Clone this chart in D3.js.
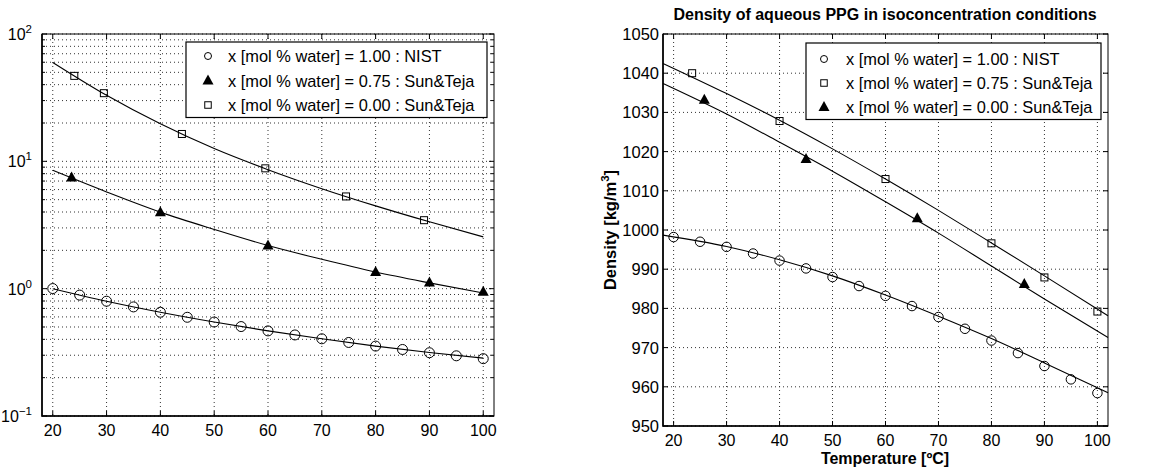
<!DOCTYPE html>
<html>
<head>
<meta charset="utf-8">
<script src="https://cdn.jsdelivr.net/npm/d3@7"></script>
<style>
  body { margin: 0; background: #fff; }
  text { font-family: "Liberation Sans", Arial, Helvetica, sans-serif; fill: #000; }
</style>
</head>
<body>
<div id="my_dataviz"></div>
<script>
// ---- data: viscosity panel (left, log scale) ----
const tempNist = [20, 25, 30, 35, 40, 45, 50, 55, 60, 65, 70, 75, 80, 85, 90, 95, 100];
const viscNist = [1.002, 0.890, 0.797, 0.719, 0.653, 0.596, 0.547, 0.504, 0.466, 0.433, 0.404, 0.378, 0.354, 0.333, 0.314, 0.297, 0.282];
const tempVisc75 = [23.5, 40, 60, 80, 90, 100];
const visc75 = [7.48, 3.99, 2.18, 1.35, 1.12, 0.947];
const tempVisc00 = [24, 29.5, 44, 59.5, 74.5, 89];
const visc00 = [46.9, 34.3, 16.4, 8.81, 5.30, 3.45];
const fitTempVisc = [20, 30, 40, 50, 60, 70, 80, 90, 100];
const fitViscNist = [1.0, 0.797, 0.653, 0.547, 0.466, 0.404, 0.354, 0.315, 0.285];
const fitVisc75 = [8.5, 5.75, 3.99, 2.92, 2.18, 1.70, 1.35, 1.11, 0.925];
const fitVisc00 = [59.8, 33, 19.7, 12.6, 8.6, 6.1, 4.47, 3.35, 2.55];

// ---- data: density panel (right) ----
const densNist = [998.2, 997.0, 995.7, 994.0, 992.2, 990.2, 988.0, 985.7, 983.2, 980.6, 977.8, 974.8, 971.8, 968.6, 965.3, 961.9, 958.4];
const tempDens75 = [23.5, 40, 60, 80, 90, 100];
const dens75 = [1040, 1027.8, 1013, 996.6, 987.9, 979.2];
const tempDens00 = [25.8, 45, 66, 86.2];
const dens00 = [1033.2, 1018.1, 1003, 986.2];
const fitTempDens = [18, 30, 40, 50, 60, 70, 80, 90, 102];
const fitDensNist = [998.7, 995.8, 992.4, 988.3, 983.4, 978.0, 972.3, 966.1, 958.5];
const fitDens75 = [1042.5, 1034.8, 1028, 1020.7, 1013, 1005, 996.7, 988.3, 978.1];
const fitDens00 = [1037.4, 1029.6, 1022.4, 1015, 1007.2, 999.2, 990.8, 982.4, 972.6];

// ---- ticks and labels ----
const tempTicks = [20, 30, 40, 50, 60, 70, 80, 90, 100];
const viscTicks = [0.1, 1, 10, 100];
const viscTickExp = ["\u22121", "0", "1", "2"];
const densTicks = [950, 960, 970, 980, 990, 1000, 1010, 1020, 1030, 1040, 1050];
const legendVisc = ["x [mol % water] = 1.00 : NIST", "x [mol % water] = 0.75 : Sun&Teja", "x [mol % water] = 0.00 : Sun&Teja"];
const legendDens = ["x [mol % water] = 1.00 : NIST", "x [mol % water] = 0.75 : Sun&Teja", "x [mol % water] = 0.00 : Sun&Teja"];
const titleDens = "Density of aqueous PPG in isoconcentration conditions";

const svg = d3.select("#my_dataviz")
  .append("svg")
  .attr("width", 1173)
  .attr("height", 471);

const triPath = s => `M0,${-s * 0.6}L${s * 0.55},${s * 0.4}L${-s * 0.55},${s * 0.4}Z`;

function drawMarker(g, type, size) {
  if (type === "circle") {
    g.append("circle").attr("r", size / 2).attr("fill", "none").attr("stroke", "#000").attr("stroke-width", 1);
  } else if (type === "square") {
    g.append("rect").attr("x", -size / 2).attr("y", -size / 2).attr("width", size).attr("height", size)
      .attr("fill", "none").attr("stroke", "#000").attr("stroke-width", 1);
  } else {
    g.append("path").attr("d", triPath(size)).attr("fill", "#000");
  }
}

function drawPanel(p) {
  const { x, y, left, right, top, bottom } = p;
  const g = svg.append("g");

  // dotted grid
  const grid = g.append("g").attr("stroke", "#333").attr("stroke-width", 1).attr("stroke-dasharray", "1,3");
  p.xGrid.forEach(v => grid.append("line").attr("x1", x(v)).attr("x2", x(v)).attr("y1", top).attr("y2", bottom));
  p.yGrid.forEach(v => grid.append("line").attr("x1", left).attr("x2", right).attr("y1", y(v)).attr("y2", y(v)));

  // fitted curves
  const line = d3.line().x(d => x(d[0])).y(d => y(d[1])).curve(d3.curveMonotoneX);
  p.curves.forEach(c => {
    g.append("path").datum(d3.zip(c.t, c.v)).attr("d", line)
      .attr("fill", "none").attr("stroke", "#000").attr("stroke-width", 1.1);
  });

  // measured points
  p.series.forEach(s => {
    g.selectAll(null).data(d3.zip(s.t, s.v)).join("g")
      .attr("transform", d => `translate(${x(d[0])},${y(d[1])})`)
      .each(function () { drawMarker(d3.select(this), s.type, s.size); });
  });

  // box
  g.append("rect").attr("x", left).attr("y", top).attr("width", right - left).attr("height", bottom - top)
    .attr("fill", "none").attr("stroke", "#000").attr("stroke-width", 1);
  g.append("path").attr("d", `M${left},${top}V${bottom}H${right}`)
    .attr("fill", "none").attr("stroke", "#000").attr("stroke-width", 1.6);

  // inward ticks
  const tk = g.append("g").attr("stroke", "#000").attr("stroke-width", 1);
  p.xGrid.forEach(v => {
    tk.append("line").attr("x1", x(v)).attr("x2", x(v)).attr("y1", bottom).attr("y2", bottom - 5);
    tk.append("line").attr("x1", x(v)).attr("x2", x(v)).attr("y1", top).attr("y2", top + 5);
  });
  p.yTickMarks.forEach(([v, len]) => {
    tk.append("line").attr("x1", left).attr("x2", left + len).attr("y1", y(v)).attr("y2", y(v));
    tk.append("line").attr("x1", right).attr("x2", right - len).attr("y1", y(v)).attr("y2", y(v));
  });

  // x tick labels
  g.selectAll(null).data(p.xGrid).join("text")
    .attr("x", d => x(d)).attr("y", bottom + 20)
    .attr("text-anchor", "middle").attr("font-size", 16)
    .text(d => d);

  // legend
  const lg = g.append("g");
  const L = p.legend;
  lg.append("rect").attr("x", L.x0).attr("y", L.y0).attr("width", L.x1 - L.x0).attr("height", L.y1 - L.y0)
    .attr("fill", "#fff").attr("stroke", "#000").attr("stroke-width", 1.2);
  L.items.forEach((it, i) => {
    const cy = L.rows[i];
    const m = lg.append("g").attr("transform", `translate(${L.mx},${cy})`);
    drawMarker(m, it.type, it.size);
    lg.append("text").attr("x", L.tx).attr("y", cy + 6).attr("font-size", 16.4).text(it.label);
  });
  return g;
}

// ---- left: viscosity ----
const xL = d3.scaleLinear().domain([18, 102]).range([42, 494]);
const yL = d3.scaleLog().domain([0.1, 100]).range([416, 34]);
const gL = drawPanel({
  x: xL, y: yL, left: 42, right: 494, top: 34, bottom: 416,
  xGrid: tempTicks,
  yGrid: yL.ticks(),
  yTickMarks: yL.ticks().map(v => [v, viscTicks.includes(v) ? 5 : 3]),
  curves: [
    { t: fitTempVisc, v: fitViscNist },
    { t: fitTempVisc, v: fitVisc75 },
    { t: fitTempVisc, v: fitVisc00 }
  ],
  series: [
    { t: tempNist, v: viscNist, type: "circle", size: 10 },
    { t: tempVisc75, v: visc75, type: "triangle", size: 10 },
    { t: tempVisc00, v: visc00, type: "square", size: 7 }
  ],
  legend: {
    x0: 186, x1: 487, y0: 42, y1: 117.5, mx: 208, tx: 228, rows: [56, 80.5, 105],
    items: [
      { type: "circle", size: 7, label: legendVisc[0] },
      { type: "triangle", size: 10, label: legendVisc[1] },
      { type: "square", size: 6.5, label: legendVisc[2] }
    ]
  }
});
const yLab = gL.selectAll(null).data(viscTicks).join("text")
  .attr("x", 32).attr("y", d => yL(d) + 6)
  .attr("text-anchor", "end").attr("font-size", 16);
yLab.append("tspan").text("10");
yLab.append("tspan").attr("dy", -7).attr("font-size", 11.5).text((d, i) => viscTickExp[i]);

// ---- right: density ----
const xR = d3.scaleLinear().domain([18, 102]).range([663, 1108]);
const yR = d3.scaleLinear().domain([950, 1050]).range([426, 34]);
const gR = drawPanel({
  x: xR, y: yR, left: 663, right: 1108, top: 34, bottom: 426,
  xGrid: tempTicks,
  yGrid: densTicks,
  yTickMarks: densTicks.map(v => [v, 5]),
  curves: [
    { t: fitTempDens, v: fitDensNist },
    { t: fitTempDens, v: fitDens75 },
    { t: fitTempDens, v: fitDens00 }
  ],
  series: [
    { t: tempNist, v: densNist, type: "circle", size: 9.5 },
    { t: tempDens75, v: dens75, type: "square", size: 7 },
    { t: tempDens00, v: dens00, type: "triangle", size: 10 }
  ],
  legend: {
    x0: 806, x1: 1101, y0: 43, y1: 119.5, mx: 824, tx: 846, rows: [59, 83, 107],
    items: [
      { type: "circle", size: 7, label: legendDens[0] },
      { type: "square", size: 6.5, label: legendDens[1] },
      { type: "triangle", size: 10, label: legendDens[2] }
    ]
  }
});
gR.selectAll(null).data(densTicks).join("text")
  .attr("x", 659).attr("y", d => yR(d) + 6)
  .attr("text-anchor", "end").attr("font-size", 16.5)
  .text(d => d);

// title and axis labels
gR.append("text").attr("x", 885).attr("y", 20).attr("text-anchor", "middle")
  .attr("font-size", 16).attr("font-weight", "bold").text(titleDens);
gR.append("text").attr("x", 885).attr("y", 464).attr("text-anchor", "middle")
  .attr("font-size", 16).attr("font-weight", "bold").text("Temperature [\u00baC]");
const yt = gR.append("text").attr("transform", "translate(616,230) rotate(-90)").attr("text-anchor", "middle")
  .attr("font-size", 16.5).attr("font-weight", "bold");
yt.append("tspan").text("Density [kg/m");
yt.append("tspan").attr("dy", -7).attr("font-size", 11.5).text("3");
yt.append("tspan").attr("dy", 7).text("]");
</script>
</body>
</html>
